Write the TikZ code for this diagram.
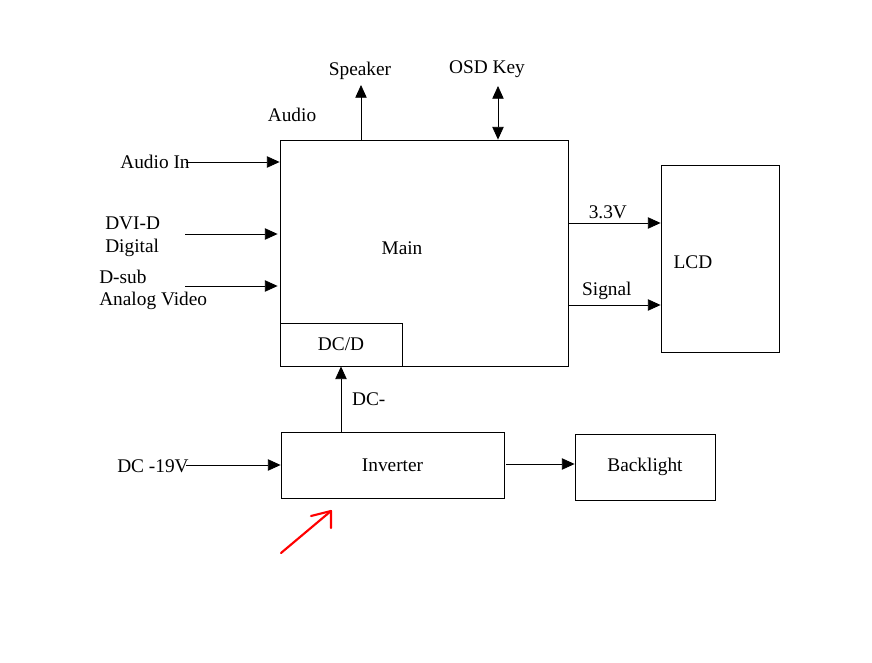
\documentclass[tikz,border=0pt]{standalone}
\usepackage{fontspec}
\setmainfont{Liberation Serif}
\usepackage{tikz}
\usetikzlibrary{arrows.meta, positioning}

\begin{document}
\begin{tikzpicture}[
        x=0.75pt, y=-0.75pt,
        every node/.style={font=\fontsize{14.5}{17}\selectfont},
        box/.style={draw, line width=0.6pt, inner sep=0pt},
        lbl/.style={inner sep=0pt},
        arr/.style={-{Triangle[length=9.5pt, width=8.5pt]}, line width=0.6pt},
        dbl/.style={{Triangle[length=9.5pt, width=8.5pt]}-{Triangle[length=9.5pt, width=8.5pt]}, line width=0.6pt}
      ]
      \useasboundingbox (0,0) rectangle (872,663);
      % blocks
      \node[box, minimum width=216pt, minimum height=169.5pt] (main) at (424,253) {};
      \node[box, minimum width=91.5pt, minimum height=32.25pt] (dcd) at (341,344.5) {DC/D};
      \node[box, minimum width=88.5pt, minimum height=140.25pt] (lcd) at (720,258.5) {};
      \node[box, minimum width=167.25pt, minimum height=49.5pt] (inv) at (392.5,465) {Inverter};
      \node[box, minimum width=105pt, minimum height=49.5pt] (back) at (645,467) {Backlight};
      \node[lbl] at (402,248) {Main};
      \node[lbl] at (693,262) {LCD};
      % top
      \node[lbl] (speaker) at (360,71) {Speaker};
      \node[lbl] (osd) at (487,69) {OSD Key};
      \node[lbl] (audio) at (292,115) {Audio};
      \coordinate (spk) at (361,85);
      \coordinate (key) at (498,86);
      \draw[arr] (spk |- main.north) -- (spk);
      \draw[dbl] (key) -- (key |- main.north);
      % inputs
      \node[lbl] (ain) at (155,162) {Audio In};
      \node[lbl, anchor=west, align=left] (dvi) at (105,237) {DVI-D\\Digital};
      \node[lbl, anchor=west, align=left] (dsub) at (99,290) {D-sub\\Analog Video};
      \coordinate (pain) at (186,162);
      \coordinate (pdvi) at (185,234);
      \coordinate (pdsub) at (185,286);
      \draw[arr] (pain) -- (pain -| main.west);
      \draw[arr] (pdvi) -- ([xshift=-1.5pt]pdvi -| main.west);
      \draw[arr] (pdsub) -- ([xshift=-1.5pt]pdsub -| main.west);
      % outputs to lcd
      \coordinate (p33) at (568,223);
      \coordinate (psig) at (568,305);
      \draw[arr] (p33) -- (p33 -| lcd.west) node[pos=0.43, above=3pt, lbl] {3.3V};
      \draw[arr] (psig) -- (psig -| lcd.west) node[pos=0.42, above=4pt, lbl] {Signal};
      % power
      \draw[arr] (inv.north -| dcd.south) -- node[right=8pt, lbl] {DC-} (dcd.south);
      \node[lbl] (dcin) at (153,466) {DC -19V};
      \coordinate (pdc) at (186,465);
      \draw[arr] (pdc) -- (pdc -| inv.west);
      \coordinate (pbl) at (506,464);
      \draw[arr] (pbl) -- (pbl -| back.west);
      % red mark
      \coordinate (m1) at (281,553);
      \coordinate (m2) at (331,511);
      \draw[red, line width=1.6pt, line cap=round, line join=round] (m1) -- (m2);
      \draw[red, line width=1.6pt, line cap=round, line join=round] (311,516) -- (m2) -- (331,528);
    \end{tikzpicture}
\end{document}
